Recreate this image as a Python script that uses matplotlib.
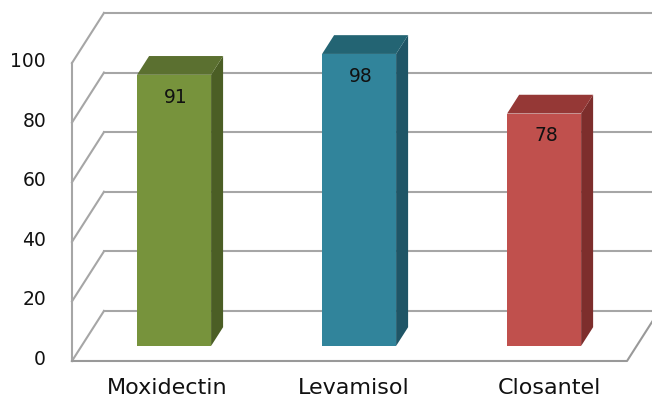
import matplotlib.pyplot as plt
from matplotlib.patches import Polygon

categories = ['Moxidectin', 'Levamisol', 'Closantel']
values = [91, 98, 78]
y_ticks = [0, 20, 40, 60, 80, 100]

# colours per bar: front, top, side
front_colors = ['#77933C', '#31849B', '#C0504D']
top_colors = ['#5B7030', '#236473', '#953836']
side_colors = ['#4B5E25', '#1F5566', '#7D2E2C']

# 3d look: offset of the back wall (in data units)
DX = 0.173
DY = 16.8
Z0, Z1 = 0.3, 0.675   # depth of bar front / back
HALF = 0.2            # half width of a bar


def proj(x, v, z):
    return (x + z * DX, v + z * DY)


fig = plt.figure(figsize=(6.52, 3.98), dpi=100)
ax = fig.add_axes([0, 0, 1, 1])
ax.axis('off')
ax.set_xlim(-0.889, 2.635)
ax.set_ylim(-12.42, 121.14)

grid_c = '#A6A6A6'
x_left, x_right = -0.5, len(categories) - 0.5

# back wall gridlines and left wall diagonals
for t in y_ticks:
    xb, yb = proj(x_left, t, 1)
    xe, ye = proj(x_right, t, 1)
    ax.plot([xb, xe], [yb, ye], color=grid_c, lw=1.5, zorder=1)
    ax.plot([x_left, xb], [t, yb], color=grid_c, lw=1.5, zorder=1)
    ax.text(x_left - 0.14, t + 0.5, str(t), ha='right', va='center',
            fontsize=13.5, color='#111111')

# left front edge and floor
ax.plot([x_left, x_left], [0, y_ticks[-1]], color=grid_c, lw=1.5, zorder=1)
xr2, yr2 = proj(x_right, 0, 1)
ax.plot([x_left, x_right, xr2], [0, 0, yr2], color='#999999', lw=1.5, zorder=1)

# bars
label_dx = [0.015, 0.025, 0.08]
for i, (name, v) in enumerate(zip(categories, values)):
    xl, xr = i - HALF, i + HALF
    front = [proj(xl, 0, Z0), proj(xr, 0, Z0), proj(xr, v, Z0), proj(xl, v, Z0)]
    top = [proj(xl, v, Z0), proj(xr, v, Z0), proj(xr, v, Z1), proj(xl, v, Z1)]
    side = [proj(xr, 0, Z0), proj(xr, 0, Z1), proj(xr, v, Z1), proj(xr, v, Z0)]
    ax.add_patch(Polygon(side, closed=True, fc=side_colors[i], ec='none', zorder=3))
    ax.add_patch(Polygon(top, closed=True, fc=top_colors[i], ec='none', zorder=3))
    ax.add_patch(Polygon(front, closed=True, fc=front_colors[i], ec='none', zorder=4))

    lx, ly = proj(i, v - 7.5, Z0)
    ax.text(lx + 0.01, ly, str(v), ha='center', va='center',
            fontsize=13.5, color='#111111', zorder=5)
    ax.text(i + label_dx[i], -8.9, name, ha='center', va='center',
            fontsize=16, color='#111111')

fig.savefig('out.png', dpi=100)
